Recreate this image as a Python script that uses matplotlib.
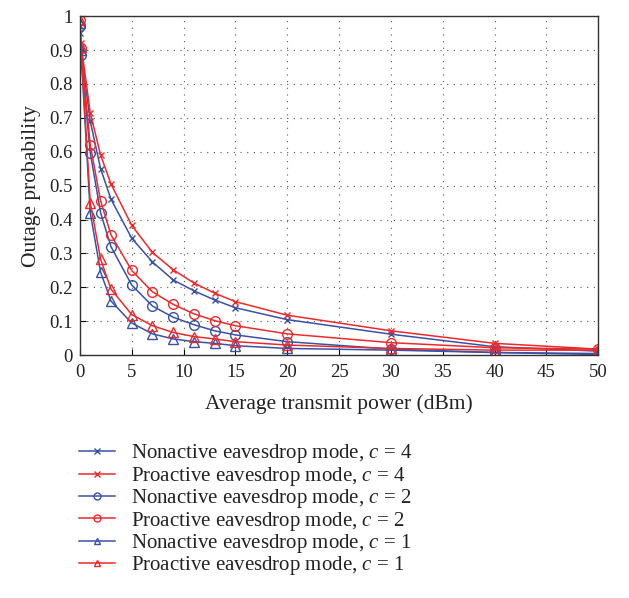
import matplotlib
matplotlib.use("Agg")
import matplotlib.pyplot as plt
import numpy as np

x = [0, 0.1, 1, 2, 3, 5, 7, 9, 11, 13, 15, 20, 30, 40, 50]

non_c4 = [0.95, 0.90, 0.69, 0.55, 0.46, 0.345, 0.275, 0.222, 0.19, 0.163, 0.14, 0.105, 0.062, 0.025, 0.012]
pro_c4 = [0.97, 0.92, 0.715, 0.59, 0.505, 0.383, 0.303, 0.252, 0.213, 0.183, 0.158, 0.118, 0.072, 0.035, 0.018]
non_c2 = [0.97, 0.885, 0.597, 0.42, 0.32, 0.207, 0.145, 0.112, 0.09, 0.072, 0.06, 0.04, 0.018, 0.008, 0.002]
pro_c2 = [0.99, 0.905, 0.62, 0.455, 0.355, 0.25, 0.187, 0.15, 0.122, 0.102, 0.087, 0.063, 0.037, 0.022, 0.018]
non_c1 = [0.98, 0.90, 0.42, 0.245, 0.16, 0.095, 0.063, 0.048, 0.04, 0.035, 0.028, 0.02, 0.015, 0.008, 0.005]
pro_c1 = [0.99, 0.91, 0.45, 0.283, 0.195, 0.12, 0.087, 0.067, 0.055, 0.048, 0.04, 0.03, 0.02, 0.015, 0.015]

labels = [
    r"Nonactive eavesdrop mode, $c$ = 4",
    r"Proactive eavesdrop mode, $c$ = 4",
    r"Nonactive eavesdrop mode, $c$ = 2",
    r"Proactive eavesdrop mode, $c$ = 2",
    r"Nonactive eavesdrop mode, $c$ = 1",
    r"Proactive eavesdrop mode, $c$ = 1",
]

plt.rcParams['font.family'] = ['Liberation Serif', 'DejaVu Serif']
plt.rcParams['mathtext.fontset'] = 'custom'
plt.rcParams['mathtext.it'] = 'Liberation Serif:italic'
plt.rcParams['mathtext.rm'] = 'Liberation Serif'

blue = '#3a52a4'
red = '#ec2a2c'

fig = plt.figure(figsize=(6.29, 5.98), dpi=100)
ax = fig.add_axes([0.127, 0.406, 0.824, 0.567])

series = [
    (non_c4, blue, 'x'),
    (pro_c4, red, 'x'),
    (non_c2, blue, 'o'),
    (pro_c2, red, 'o'),
    (non_c1, blue, '^'),
    (pro_c1, red, '^'),
]
lines = []
for (y, col, m), lab in zip(series, labels):
    ms = 5 if m == 'x' else 7
    ln, = ax.plot(x, y, color=col, marker=m, markersize=ms, markerfacecolor='none',
                  markeredgecolor=col, markeredgewidth=1.0, linewidth=1.1, label=lab)
    lines.append(ln)

ax.set_xlim(0, 50)
ax.set_ylim(0, 1)
ax.set_xticks(np.arange(0, 51, 5))
ax.set_yticks(np.arange(0, 1.01, 0.1))
ax.set_yticklabels(['0', '0.1', '0.2', '0.3', '0.4', '0.5', '0.6', '0.7', '0.8', '0.9', '1'])
ax.tick_params(direction='in', labelsize=13.5, length=4, labelcolor='#222222')
ax.tick_params(axis='x', pad=6)
ax.tick_params(axis='y', pad=5)
ax.grid(True, linestyle=(0, (1, 5)), color='#555555', linewidth=0.8)
for s in ax.spines.values():
    s.set_linewidth(1.0)
    s.set_color('#333333')
ax.set_xlabel('Average transmit power (dBm)', fontsize=15.5, labelpad=10, color='#222222')
ax.set_ylabel('Outage probability', fontsize=15.5, labelpad=6, color='#222222')

leg = fig.legend(handles=lines, loc='upper left', bbox_to_anchor=(0.112, 0.274),
                 frameon=False, fontsize=15, handlelength=1.75, labelspacing=-0.03,
                 handletextpad=0.75, borderaxespad=0, labelcolor='#222222')
for h in leg.legend_handles:
    h.set_markersize(5)

fig.savefig('out.png', dpi=100)
